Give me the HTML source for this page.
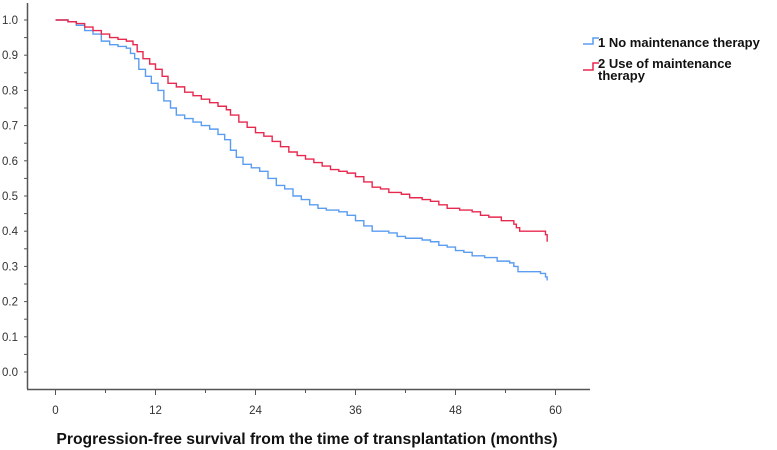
<!DOCTYPE html>
<html><head><meta charset="utf-8"><style>
body{margin:0;background:#fff;}
svg{display:block;font-family:"Liberation Sans",Arial,sans-serif;}
</style></head><body>
<svg id="chart" width="777" height="450">
<g id="axes"></g>
<g id="series"></g>
<g>
  <path d="M583 44 H593 V38 H599" fill="none" stroke="#5a9cf0" stroke-width="1.5"/>
  <text x="598" y="47" font-size="13" font-weight="bold" fill="#111">1 No maintenance therapy</text>
  <path d="M583 70 H593 V63 H599" fill="none" stroke="#e8294f" stroke-width="1.5"/>
  <text x="598" y="68" font-size="13" font-weight="bold" fill="#111">2 Use of maintenance</text>
  <text x="598" y="80" font-size="13" font-weight="bold" fill="#111">therapy</text>
</g>
<text x="307" y="444" text-anchor="middle" font-size="15.7" font-weight="bold" fill="#111">Progression-free survival from the time of transplantation (months)</text>
</svg>
<script>
const xTicks=[0,12,24,36,48,60];
const yTicks=[0.0,0.1,0.2,0.3,0.4,0.5,0.6,0.7,0.8,0.9,1.0];
const timesNo=[0,1.5,2.5,3.5,4.5,5.5,6.5,7.5,8.5,9,9.5,10,10.8,11.5,12.3,13,13.8,14.5,15.5,16.5,17.5,18.5,19.5,20.3,21,21.7,22.5,23.5,24.5,25.5,26.5,27.5,28.5,29.5,30.5,31.5,32.5,34,35,36,37,38,40,41,42,44,45,46,47,48,49,50,51.5,53,54.5,55,55.5,58.2,58.8,59];
const survNo=[1.0,0.995,0.985,0.97,0.96,0.94,0.93,0.925,0.92,0.905,0.89,0.86,0.84,0.82,0.80,0.77,0.75,0.73,0.72,0.71,0.70,0.69,0.675,0.66,0.63,0.61,0.59,0.58,0.57,0.55,0.53,0.52,0.50,0.49,0.475,0.465,0.46,0.455,0.445,0.43,0.415,0.40,0.395,0.385,0.38,0.375,0.37,0.36,0.355,0.345,0.34,0.33,0.325,0.315,0.31,0.30,0.285,0.28,0.27,0.26];
const timesYes=[0,1.5,2.5,3.5,4.5,5.5,6.5,7.5,8.5,9.3,9.8,10.5,11.3,12,12.8,13.5,14.5,15.5,16.5,17.5,18.5,19.5,20.5,21,22,23,24,25,26,27,28,29,30,31,32,33,34,35,36,37,38,39,40,41.5,42.5,44,45,46,47,48.5,50,51,52,53.5,55,55.3,55.7,58.8,59];
const survYes=[1.0,0.995,0.99,0.98,0.97,0.96,0.95,0.945,0.94,0.93,0.91,0.89,0.875,0.86,0.84,0.82,0.81,0.795,0.785,0.775,0.765,0.755,0.745,0.73,0.71,0.695,0.68,0.67,0.655,0.64,0.625,0.615,0.605,0.595,0.585,0.575,0.57,0.565,0.555,0.54,0.525,0.52,0.51,0.505,0.495,0.49,0.485,0.475,0.465,0.46,0.455,0.445,0.44,0.43,0.42,0.41,0.40,0.39,0.37];
const ns="http://www.w3.org/2000/svg";
const X=t=>55.5+t*100/12;
const Y=v=>372-v*352;
const axes=document.getElementById('axes');
const series=document.getElementById('series');
function mk(tag,attrs,parent){const e=document.createElementNS(ns,tag);for(const k in attrs)e.setAttribute(k,attrs[k]);parent.appendChild(e);return e;}
let l=mk('line',{x1:27.5,y1:3,x2:27.5,y2:389,stroke:'#555','stroke-width':1.5},axes);


l=mk('line',{x1:27,y1:389.5,x2:590,y2:389.5,stroke:'#555','stroke-width':1.5},axes);


for(let i=-1;i<=21;i++){const v=i*0.05;const y=Y(v);if(y<3||y>389)continue;
  const t=mk('line',{x1:24,y1:y,x2:27,y2:y,stroke:'#555'},axes);
  
  }
yTicks.forEach(v=>{const t=mk('text',{x:18,y:Y(v)+4,'text-anchor':'end','font-size':11.5,fill:'#333'},axes);t.textContent=v.toFixed(1);
  
  });
for(let m=0;m<=64;m+=6){const x=X(m);if(x>588)continue;
  const t=mk('line',{x1:x,y1:390,x2:x,y2:m%12===0?395:393,stroke:'#555'},axes);
  
  }
xTicks.forEach(m=>{const t=mk('text',{x:X(m),y:414,'text-anchor':'middle','font-size':11.5,fill:'#333'},axes);t.textContent=m;
  
  });
function step(times,surv,color,name){let d='M'+X(times[0])+' '+Y(surv[0]);
  for(let i=1;i<times.length;i++){d+=' H'+X(times[i])+' V'+Y(surv[i]);}
  const p=mk('path',{d:d,fill:'none',stroke:color,'stroke-width':1.4},series);
  
  }
step(timesNo,survNo,'#5a9cf0','curve-no-maintenance');
step(timesYes,survYes,'#e8294f','curve-maintenance');
</script>
</body></html>
